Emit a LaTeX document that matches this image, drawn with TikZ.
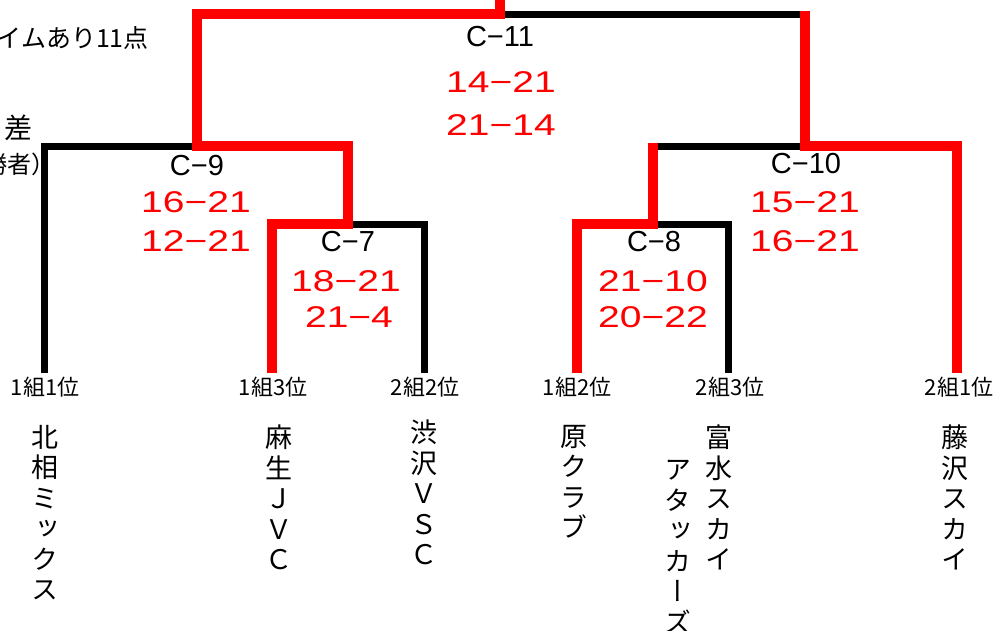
\documentclass[tikz,border=0pt]{standalone}
\usepackage{fontspec}
\setmainfont{Liberation Sans}
\newfontfamily\jp{Noto Sans CJK JP}
\newfontfamily\jpv[RawFeature=+vert]{Noto Sans CJK JP}
\usetikzlibrary{calc}
\definecolor{wred}{RGB}{255,0,0}
\tikzset{
  blk/.style={line width=7pt, draw=black},
  rd/.style={line width=9.5pt, draw=wred},
  mlab/.style={inner sep=0pt, font=\fontsize{29}{29}\selectfont},
  score/.style={inner sep=0pt, text=wred, font=\fontsize{30}{30}\selectfont},
  rank/.style={inner sep=0pt, font=\jp\fontsize{22}{22}\selectfont},
  team/.style={inner sep=0pt, anchor=north, align=center, font=\jpv\fontsize{27}{30.5}\selectfont},
  note/.style={inner sep=0pt, font=\jp\fontsize{25}{25}\selectfont}
}
\newcommand\scr[1]{\scalebox{1.3}[1]{#1}}
\begin{document}
\begin{tikzpicture}[x=1pt,y=-1pt]
\useasboundingbox (0,0) rectangle (997,630);
% junctions
\coordinate (top) at (500,0);
\coordinate (j11) at (500,14);
\coordinate (j9) at (197,146);
\coordinate (j7) at (348,224);
\coordinate (j10) at (805,146);
\coordinate (j8) at (653,224);
\coordinate (l1) at (44.5,373);
\coordinate (l2) at (272,373);
\coordinate (l3) at (424.5,373);
\coordinate (l4) at (577,373);
\coordinate (l5) at (728.5,373);
\coordinate (l6) at (957,373);
% black lines
\draw[blk] (l1) |- (j9);
\draw[blk] (j7) -| (l3);
\draw[blk] (j11) -| (j10);
\draw[blk] (j10) -| (j8);
\draw[blk] (j8) -| (l5);
% red (winner) lines
\draw[rd] (top) -- (j11) -| (j9) -| (j7) -| (l2);
\draw[rd] ($(j11 -| j10)+(0,-3.5)$) -- (j10) -| (l6);
\draw[rd] ($(j10 -| j8)+(0,-3.5)$) -- (j8) -| (l4);
% match labels
\node[mlab] (m11) at (500,37) {C−11};
\node[score] (s11a) at (501,82.5) {\scr{14−21}};
\node[score] (s11b) at (501,125) {\scr{21−14}};
\node[mlab] (m9) at (197,165.5) {C−9};
\node[score] (s9a) at (196,202.5) {\scr{16−21}};
\node[score] (s9b) at (196,241.5) {\scr{12−21}};
\node[mlab] (m7) at (348,242) {C−7};
\node[score] (s7a) at (346,281) {\scr{18−21}};
\node[score] (s7b) at (349,317.5) {\scr{21−4}};
\node[mlab] (m10) at (806,164) {C−10};
\node[score] (s10a) at (805,202.5) {\scr{15−21}};
\node[score] (s10b) at (805,241) {\scr{16−21}};
\node[mlab] (m8) at (654,242) {C−8};
\node[score] (s8a) at (653,281) {\scr{21−10}};
\node[score] (s8b) at (653,317.5) {\scr{20−22}};
% rank labels
\node[rank] (r1) at (45,387.5) {1組1位};
\node[rank] (r2) at (273,387.5) {1組3位};
\node[rank] (r3) at (425,387.5) {2組2位};
\node[rank] (r4) at (577,387.5) {1組2位};
\node[rank] (r5) at (730,387.5) {2組3位};
\node[rank] (r6) at (959,387.5) {2組1位};
% team names
\node[team] (t1) at (45,425) {北\\相\\ミ\\ッ\\ク\\ス};
\node[team] (t2) at (278.5,425) {麻\\生\\Ｊ\\Ｖ\\Ｃ};
\node[team] (t3) at (423.5,420) {渋\\沢\\Ｖ\\Ｓ\\Ｃ};
\node[team] (t4) at (574,425) {原\\ク\\ラ\\ブ};
\node[team] (t5) at (719,425) {富\\水\\ス\\カ\\イ};
\node[team] (t5b) at (678,460) {ア\\タ\\ッ\\カ\\ー\\ズ};
\node[team] (t6) at (955,425) {藤\\沢\\ス\\カ\\イ};
% notes at left edge
\node[note, anchor=east] (n1) at (149,38) {イムあり11点};
\node[note, font=\jp\fontsize{28}{28}\selectfont] (n2) at (18.5,127.5) {差};
\node[note, anchor=west, font=\jp\fontsize{24}{24}\selectfont] (n3) at (-17,164.5) {勝者）};
\end{tikzpicture}
\end{document}
